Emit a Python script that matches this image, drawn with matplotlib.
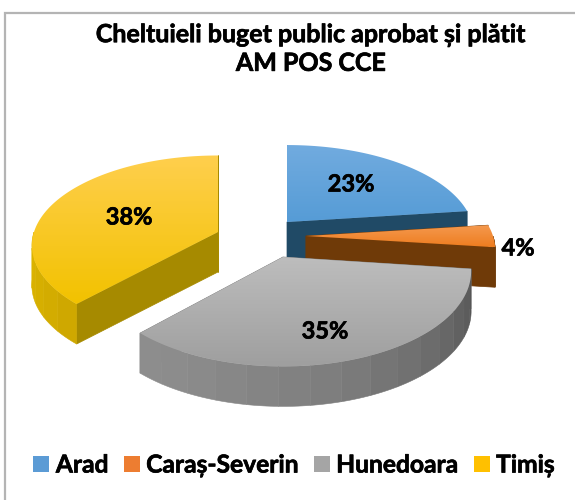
import numpy as np
import matplotlib
matplotlib.use("Agg")
import matplotlib.pyplot as plt
import matplotlib.patheffects as pe
from matplotlib.patches import Polygon, Patch
from matplotlib.colors import LinearSegmentedColormap

plt.rcParams['font.family'] = ['Lato', 'DejaVu Sans']

title = "Cheltuieli buget public aprobat și plătit\nAM POS CCE"
categories = ["Arad", "Caraș-Severin", "Hunedoara", "Timiș"]
values = [23, 4, 35, 38]
labels = ["23%", "4%", "35%", "38%"]
label_xy = [(351, 184), (518, 248), (325, 331), (129, 217)]

top_light = ["#71abdf", "#f59a50", "#bdbdbd", "#ffcf4d"]
top_dark = ["#569cd6", "#ee7d20", "#9f9f9f", "#f2c200"]
legend_colors = ["#5b9bd5", "#ed7d31", "#a5a5a5", "#ffc000"]
cut_colors = ["#204a66", "#6f3a08", "#808080", "#a68a00"]
wall_edge = ["#1d4460", "#6f3a08", "#8e8e8e", "#dcb400"]
wall_mid = ["#1d4460", "#6f3a08", "#565656", "#cfa800"]

# apex x, apex y, radius x, radius y for each exploded slice
geometry = [(287, 222, 185, 88.5), (306, 236, 187, 88), (283, 257, 186, 93), (218, 232, 184, 88)]
persp = 0.15
depth = 40

fig = plt.figure(figsize=(5.75, 5.0), dpi=100)
ax = fig.add_axes([0, 0, 1, 1])
ax.axis("off")

ax.plot([5, 5, 575], [500, 13, 13], color="#b4b4b4", lw=1.6, zorder=0, solid_joinstyle="miter")


def project(theta, geo):
    ax0, ay0, rx, ry = geo
    u, v = np.sin(theta), -np.cos(theta)
    s = 1 / (1 - persp * v)
    return ax0 + rx * u * s, ay0 + ry * v * s


cum = np.cumsum([0] + values) / sum(values) * 2 * np.pi
draw_order = [3, 0, 1, 2]
z = 1
for i in draw_order:
    geo = geometry[i]
    a0, a1 = cum[i], cum[i + 1]
    th = np.linspace(a0, a1, 121)
    X, Y = project(th, geo)
    apex = (geo[0], geo[1])
    # radial cut faces
    for t in (a0, a1):
        x, y = project(np.array([t]), geo)
        ax.add_patch(Polygon([apex, (x[0], y[0]), (x[0], y[0] + depth), (apex[0], apex[1] + depth)],
                             fc=cut_colors[i], ec=cut_colors[i], lw=0.5, zorder=z))
    z += 1
    # outer wall, in facets
    front = np.where((th > np.pi / 2) & (th < 3 * np.pi / 2))[0]
    if len(front) > 1:
        cm = LinearSegmentedColormap.from_list("w", [wall_edge[i], wall_mid[i]])
        step = 8
        for j in range(front[0], front[-1], step):
            k = min(j + step, front[-1])
            xs = np.r_[X[j:k + 1], X[j:k + 1][::-1]]
            ys = np.r_[Y[j:k + 1], (Y + depth)[j:k + 1][::-1]]
            frac = (j - front[0]) / max(1, front[-1] - front[0])
            col = cm((1 - frac) ** 1.6)
            ax.add_patch(Polygon(np.c_[xs, ys], fc=col, ec=col, lw=0.4, zorder=z))
    z += 1
    # top face with a vertical gradient
    poly = Polygon(np.r_[[apex], np.c_[X, Y]], fc="none", ec="none", zorder=z)
    ax.add_patch(poly)
    cm = LinearSegmentedColormap.from_list("t", [top_light[i], top_dark[i]])
    im = ax.imshow(np.linspace(0, 1, 64)[:, None], cmap=cm, aspect="auto",
                   extent=(min(X.min(), apex[0]), max(X.max(), apex[0]),
                           max(Y.max(), apex[1]), min(Y.min(), apex[1])),
                   zorder=z)
    im.set_clip_path(poly)
    z += 1

ax.set_xlim(0, 575)
ax.set_ylim(500, 0)

heavy = [pe.withStroke(linewidth=0.5, foreground="black")]

for (x, y), s in zip(label_xy, labels):
    ax.text(x, y, s, ha="center", va="center", fontsize=17, fontweight="bold", color="black",
            zorder=z, path_effects=heavy)

ax.text(311, 49, title, ha="center", va="center", fontsize=18, fontweight="bold",
        color="black", linespacing=1.3, zorder=z, path_effects=heavy)

handles = [Patch(fc=c, ec="none") for c in legend_colors]
leg = ax.legend(handles, categories, loc="center", bbox_to_anchor=(294 / 575, 1 - 465 / 500), ncol=4,
                frameon=False, prop={"weight": "bold", "size": 17.7}, handlelength=0.65, handleheight=0.65,
                handletextpad=0.26, columnspacing=0.62, borderpad=0, borderaxespad=0)
for t in leg.get_texts():
    t.set_path_effects(heavy)

fig.savefig("out.png", dpi=100)
